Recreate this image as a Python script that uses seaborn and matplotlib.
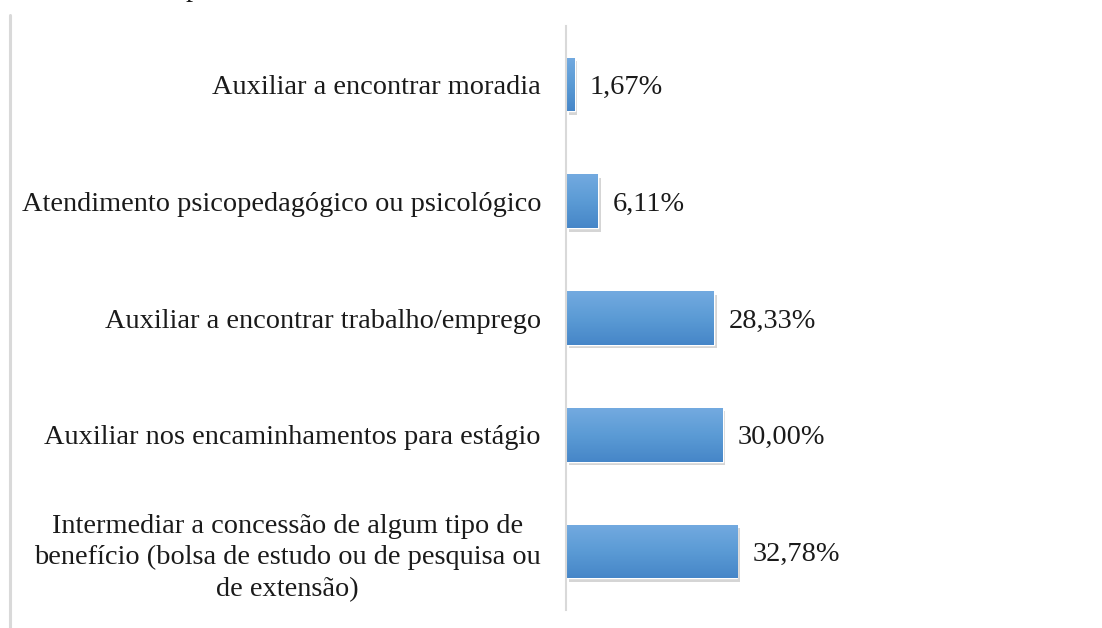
import numpy as np
import pandas as pd
import matplotlib
matplotlib.use("Agg")
import matplotlib.pyplot as plt
import matplotlib.patheffects as pe
from matplotlib.colors import LinearSegmentedColormap
import seaborn as sns

categories = [
    "Auxiliar a encontrar moradia",
    "Atendimento psicopedagógico ou psicológico",
    "Auxiliar a encontrar trabalho/emprego",
    "Auxiliar nos encaminhamentos para estágio",
    "Intermediar a concessão de algum tipo de\nbenefício (bolsa de estudo ou de pesquisa ou\nde extensão)",
]
values = [1.67, 6.11, 28.33, 30.00, 32.78]
value_labels = ["1,67%", "6,11%", "28,33%", "30,00%", "32,78%"]

sns.set_theme(style="white")
plt.rcParams["font.family"] = ["Liberation Serif", "DejaVu Serif"]

W, H = 1102, 628
fig = plt.figure(figsize=(W / 100, H / 100), dpi=100)
ax = fig.add_axes([566 / W, 1 - 610 / H, (1088 - 566) / W, (610 - 26) / H])

df = pd.DataFrame({"cat": categories, "val": values})
sns.barplot(data=df, x="val", y="cat", orient="h", width=0.46,
            color="#5b9bd5", ax=ax, zorder=3)

ax.set_xlim(0, 100)
ax.set_ylim(4.5, -0.5)
ax.set_xlabel("")
ax.set_ylabel("")
ax.set_xticks([])
for s in ["top", "right", "bottom"]:
    ax.spines[s].set_visible(False)
ax.spines["left"].set_color("#d9d9d9")
ax.spines["left"].set_linewidth(1.5)
ax.spines["left"].set_zorder(5)
ax.tick_params(axis="y", length=0, pad=18)
for lab in ax.get_yticklabels():
    lab.set_fontsize(20.4)
    lab.set_color("#1a1a1a")
    lab.set_multialignment("center")
    lab.set_linespacing(1.33)
    lab.set_va("center_baseline")

cmap = LinearSegmentedColormap.from_list("g", ["#73aae0", "#5b9bd5", "#4686c8"])
grad = np.linspace(0, 1, 100).reshape(-1, 1)
for p, v, t in zip(ax.patches, values, value_labels):
    p.set_path_effects([pe.SimplePatchShadow(offset=(2, -2.5), alpha=0.22, shadow_rgbFace="#404040"),
                        pe.Normal()])
    x0, y0 = p.get_x(), p.get_y()
    w, h = p.get_width(), p.get_height()
    im = ax.imshow(grad, cmap=cmap, aspect="auto",
                   extent=[x0, x0 + w, y0 + h, y0], zorder=4, origin="upper")
    im.set_clip_path(p)
    ax.text(v + 2.9, y0 + h / 2, t, va="center_baseline", ha="left",
            fontsize=20.4, color="#1a1a1a")
ax.set_xlim(0, 100)
ax.set_ylim(4.5, -0.5)

# left page border line and cropped caption glyph
fig.add_artist(plt.Line2D([9.5 / W, 9.5 / W], [0, 1 - 15 / H], color="#d9d9d9", lw=2.2))
fig.text(186 / W, 1 + 4 / H, "p", fontsize=20.4, va="baseline", ha="left", color="#1a1a1a")

fig.savefig("out.png", dpi=100, facecolor="white")
